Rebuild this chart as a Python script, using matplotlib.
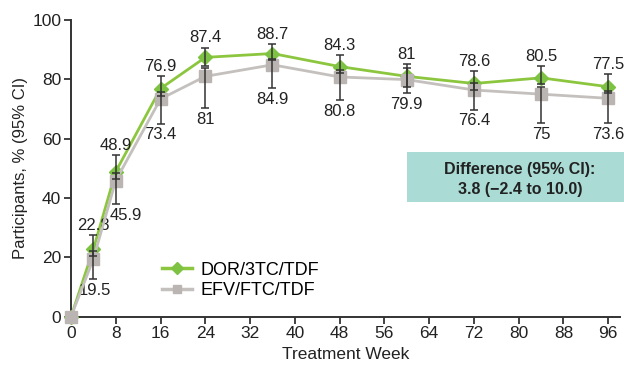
import matplotlib
matplotlib.use("Agg")
import matplotlib.pyplot as plt
from matplotlib.patches import Rectangle
from matplotlib.lines import Line2D

plt.rcParams['font.family'] = ['Liberation Sans', 'DejaVu Sans']

weeks = [0, 4, 8, 16, 24, 36, 48, 60, 72, 84, 96]
dor = [0, 22.8, 48.9, 76.9, 87.4, 88.7, 84.3, 81, 78.6, 80.5, 77.5]
dor_lo = [0, 20.5, 46.5, 74.5, 84.6, 86.5, 82.0, 77.3, 76.5, 78.5, 75.5]
dor_hi = [0, 27.5, 54.4, 81.2, 90.7, 92.0, 88.2, 85.1, 82.8, 84.5, 81.8]
efv = [0, 19.5, 45.9, 73.4, 81, 84.9, 80.8, 79.9, 76.4, 75, 73.6]
efv_lo = [0, 12.6, 37.9, 65.0, 70.2, 77.0, 73.0, 75.3, 69.7, 65.2, 65.2]
efv_hi = [0, 22.0, 48.5, 75.8, 83.7, 87.0, 83.0, 83.7, 78.8, 77.3, 76.0]
dor_labels = ["", "22.8", "48.9", "76.9", "87.4", "88.7", "84.3", "81", "78.6", "80.5", "77.5"]
efv_labels = ["", "19.5", "45.9", "73.4", "81", "84.9", "80.8", "79.9", "76.4", "75", "73.6"]
xticks = list(range(0, 97, 8))
yticks = [0, 20, 40, 60, 80, 100]

green_line = '#8cc63f'
green_mk = '#7dc242'
gray_line = '#c4c0bd'
gray_mk = '#bab5b2'
ebc = '#333333'
txt = '#222222'

fig = plt.figure(figsize=(6.24, 3.66), dpi=100)
ax = fig.add_axes([0.1138, 0.1347, 0.8798, 0.8107])

ax.plot(weeks, dor, color=green_line, lw=2, marker='D', ms=7, mfc=green_mk, mec=green_mk,
        zorder=3, clip_on=False)
ax.plot(weeks, efv, color=gray_line, lw=2, marker='s', ms=8, mfc=gray_mk, mec=gray_mk,
        zorder=4, clip_on=False)

for w, v, lo, hi in zip(weeks[1:], dor[1:], dor_lo[1:], dor_hi[1:]):
    ax.errorbar([w], [v], yerr=[[v - lo], [hi - v]], fmt='none', ecolor=ebc, elinewidth=1.1,
                capsize=3, capthick=1.1, zorder=5)
for w, v, lo, hi in zip(weeks[1:], efv[1:], efv_lo[1:], efv_hi[1:]):
    ax.errorbar([w], [v], yerr=[[v - lo], [hi - v]], fmt='none', ecolor=ebc, elinewidth=1.1,
                capsize=3, capthick=1.1, zorder=5)

efv_dx = {4: 2, 8: 10}
for w, hi, lab in zip(weeks, dor_hi, dor_labels):
    if lab:
        ax.annotate(lab, xy=(w, hi), xytext=(0, 1.5), textcoords='offset points',
                    ha='center', va='bottom', fontsize=12, color=txt, annotation_clip=False)
for w, lo, lab in zip(weeks, efv_lo, efv_labels):
    if lab:
        ax.annotate(lab, xy=(w, lo), xytext=(efv_dx.get(w, 0) * 0.72, -2.5), textcoords='offset points',
                    ha='center', va='top', fontsize=12, color=txt, annotation_clip=False)

ax.set_xlim(0, 98.1)
ax.set_ylim(0, 100)
ax.set_xticks(xticks)
ax.set_yticks(yticks)
for s in ['top', 'right']:
    ax.spines[s].set_visible(False)
for s in ['left', 'bottom']:
    ax.spines[s].set_color('#333333')
    ax.spines[s].set_linewidth(1.4)
ax.tick_params(axis='both', direction='out', length=5, width=1.3, color='#333333',
               labelsize=12.5, labelcolor=txt, pad=2)
ax.set_xlabel('Treatment Week', fontsize=12.5, color=txt, labelpad=4)
ax.set_ylabel('Participants, % (95% CI)', fontsize=12, color=txt, labelpad=3)

handles = [Line2D([0], [0], color=green_line, lw=2.5, marker='D', ms=6, mfc=green_mk, mec=green_mk),
           Line2D([0], [0], color=gray_line, lw=2.5, marker='s', ms=6, mfc=gray_mk, mec=gray_mk)]
ax.legend(handles, ['DOR/3TC/TDF', 'EFV/FTC/TDF'], loc='upper left', bbox_to_anchor=(0.165, 0.186),
          frameon=False, fontsize=13, handlelength=1.7, handletextpad=0.45, labelspacing=0.2,
          borderaxespad=0, borderpad=0)

fig.patches.append(Rectangle((0.652, 0.449), 0.36, 0.1365, transform=fig.transFigure,
                             facecolor='#aadcd5', edgecolor='none', zorder=6))
fig.text(0.833, 0.537, 'Difference (95% CI):', ha='center', va='center', fontsize=11.5,
         fontweight='bold', color=txt, zorder=7)
fig.text(0.833, 0.481, '3.8 (\u22122.4 to 10.0)', ha='center', va='center', fontsize=11.5,
         fontweight='bold', color=txt, zorder=7)

fig.savefig('out.png', dpi=100)
